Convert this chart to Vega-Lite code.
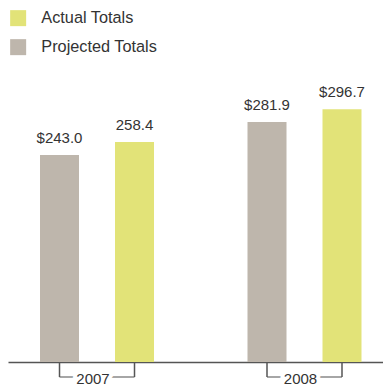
{
  "$schema": "https://vega.github.io/schema/vega-lite/v6.json",
  "autosize": {"type": "none"},
  "padding": {"left": 8, "top": 0, "right": 0, "bottom": 23},
  "width": 375,
  "height": 362,
  "background": "white",
  "config": {
    "view": {"stroke": null},
    "font": "Liberation Sans",
    "text": {"font": "Liberation Sans"}
  },
  "datasets": {
    "bars": [
      {"year": "2007", "series": "Projected Totals", "value": 243.0, "label": "$243.0"},
      {"year": "2007", "series": "Actual Totals", "value": 258.4, "label": "258.4"},
      {"year": "2008", "series": "Projected Totals", "value": 281.9, "label": "$281.9"},
      {"year": "2008", "series": "Actual Totals", "value": 296.7, "label": "$296.7"}
    ],
    "years": [{"year": "2007"}, {"year": "2008"}]
  },
  "encoding": {
    "x": {
      "field": "year", "type": "nominal",
      "scale": {"paddingInner": 0.2771, "paddingOuter": 0.0422, "align": 0.8},
      "axis": {"title": null, "labels": false, "ticks": false, "domain": true, "domainColor": "#555555", "domainWidth": 1.5, "grid": false}
    }
  },
  "layer": [
    {
      "data": {"name": "bars"},
      "mark": {"type": "bar"},
      "encoding": {
        "xOffset": {"field": "series", "type": "nominal", "sort": ["Projected Totals", "Actual Totals"], "scale": {"paddingInner": 0.48, "paddingOuter": 0.24}},
        "y": {"field": "value", "type": "quantitative", "scale": {"domain": [0, 425], "nice": false, "zero": true}, "axis": null},
        "color": {
          "field": "series", "type": "nominal",
          "scale": {"domain": ["Actual Totals", "Projected Totals"], "range": ["#e2e378", "#beb6ac"]},
          "legend": {
            "title": null, "orient": "none", "legendX": 2, "legendY": 10,
            "symbolType": "square", "symbolSize": 256, "symbolStrokeWidth": 0, "symbolOpacity": 1,
            "labelFontSize": 16.3, "labelFont": "Liberation Sans", "labelColor": "#333333",
            "labelOffset": 15, "rowPadding": 12, "padding": 0
          }
        }
      }
    },
    {
      "data": {"name": "bars"},
      "mark": {"type": "text", "baseline": "alphabetic", "dy": -12, "fontSize": 15, "color": "#333333"},
      "encoding": {
        "xOffset": {"field": "series", "type": "nominal", "sort": ["Projected Totals", "Actual Totals"]},
        "y": {"field": "value", "type": "quantitative"},
        "text": {"field": "label"}
      }
    },
    {
      "data": {"name": "bars"},
      "mark": {"type": "rule", "color": "#555555", "strokeWidth": 1.5, "y2Offset": 15},
      "encoding": {
        "xOffset": {"field": "series", "type": "nominal", "sort": ["Projected Totals", "Actual Totals"]},
        "y": {"datum": 0},
        "y2": {"datum": 0}
      }
    },
    {
      "data": {"name": "years"},
      "mark": {"type": "tick", "orient": "horizontal", "color": "#555555", "thickness": 1.5, "size": 75, "yOffset": 15},
      "encoding": {
        "y": {"datum": 0}
      }
    },
    {
      "data": {"name": "years"},
      "mark": {"type": "text", "baseline": "alphabetic", "dx": -4, "dy": 22, "fontSize": 15, "color": "white", "stroke": "white", "strokeWidth": 8},
      "encoding": {
        "y": {"datum": 0},
        "text": {"field": "year"}
      }
    },
    {
      "data": {"name": "years"},
      "mark": {"type": "text", "baseline": "alphabetic", "dx": -4, "dy": 22, "fontSize": 15, "color": "#333333"},
      "encoding": {
        "y": {"datum": 0},
        "text": {"field": "year"}
      }
    }
  ]
}
